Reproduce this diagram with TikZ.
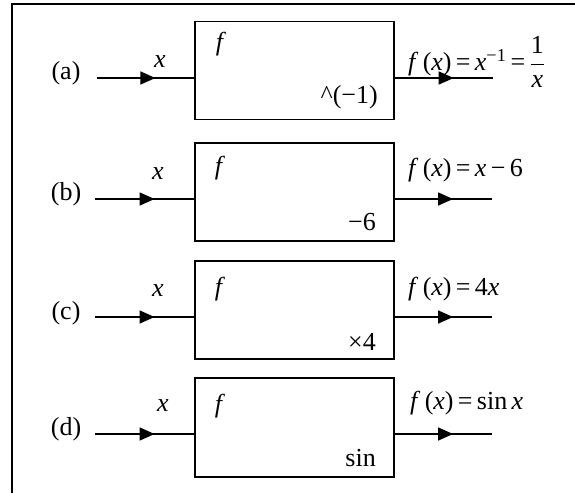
\documentclass[tikz,border=0pt]{standalone}
\usepackage{fontspec}
\usepackage{amsmath}
\setmainfont{Liberation Serif}
\usetikzlibrary{arrows.meta,decorations.markings}
\begin{document}
\begin{tikzpicture}[x=1pt,y=-1pt,
  every node/.style={font=\fontsize{26}{30}\selectfont, inner sep=0pt},
  fbox/.style={draw, line width=1.4pt, minimum width=199pt, minimum height=98pt},
  sig/.style={line width=1.4pt, postaction={decorate},
    decoration={markings, mark=at position 0.6 with {\arrow{Triangle[length=15pt,width=13pt]}}}},
]
\useasboundingbox (0,0) rectangle (575,493);
\draw[line width=1.4pt] (12,493) -- (12,4) -- (575,4);

% (a)
\node[fbox] (A) at (294.5,70.5) {};
\coordinate (ia) at (97,78);
\coordinate (oa) at (493,78);
\draw[sig] (ia) -- (ia -| A.west);
\draw[sig] (ia -| A.east) -- (oa);
\node (la) at (66,73) {(a)};
\node (xa) at (160,62) {\textit{x}};
\node (fa) at (221,44) {\textit{f}};
\node[anchor=east] (opa) at (378,97) {\textasciicircum(−1)};
\node[anchor=west] (ra) at (408,62) {\textit{f}\,(\textit{x})\,=\,\textit{x}\textsuperscript{−1}\,=\,$\dfrac{\text{1}}{\text{\itshape x}}$};

% (b)
\node[fbox] (B) at (294.5,192) {};
\coordinate (ib) at (95,199);
\coordinate (ob) at (492,199);
\draw[sig] (ib) -- (ib -| B.west);
\draw[sig] (ib -| B.east) -- (ob);
\node (lb) at (66,194) {(b)};
\node (xb) at (158,174) {\textit{x}};
\node (fb) at (220,168) {\textit{f}};
\node[anchor=east] (opb) at (376,222) {−6};
\node[anchor=west] (rb) at (408,170) {\textit{f}\,(\textit{x})\,=\,\textit{x}\,−\,6};

% (c)
\node[fbox] (C) at (294.5,310) {};
\coordinate (ic) at (95,317);
\coordinate (oc) at (492,317);
\draw[sig] (ic) -- (ic -| C.west);
\draw[sig] (ic -| C.east) -- (oc);
\node (lc) at (66,313) {(c)};
\node (xc) at (158,291) {\textit{x}};
\node (fc) at (220,289) {\textit{f}};
\node[anchor=east] (opc) at (376,342) {×4};
\node[anchor=west] (rc) at (408,289) {\textit{f}\,(\textit{x})\,=\,4\textit{x}};

% (d)
\node[fbox, minimum height=99pt] (D) at (294.5,427.5) {};
\coordinate (id) at (95,434);
\coordinate (od) at (492,434);
\draw[sig] (id) -- (id -| D.west);
\draw[sig] (id -| D.east) -- (od);
\node (ld) at (66,429) {(d)};
\node (xd) at (163,406) {\textit{x}};
\node (fd) at (220,406) {\textit{f}};
\node[anchor=east] (opd) at (376,458) {sin};
\node[anchor=west] (rd) at (410,403) {\textit{f}\,(\textit{x})\,=\,sin\,\textit{x}};
\end{tikzpicture}
\end{document}
